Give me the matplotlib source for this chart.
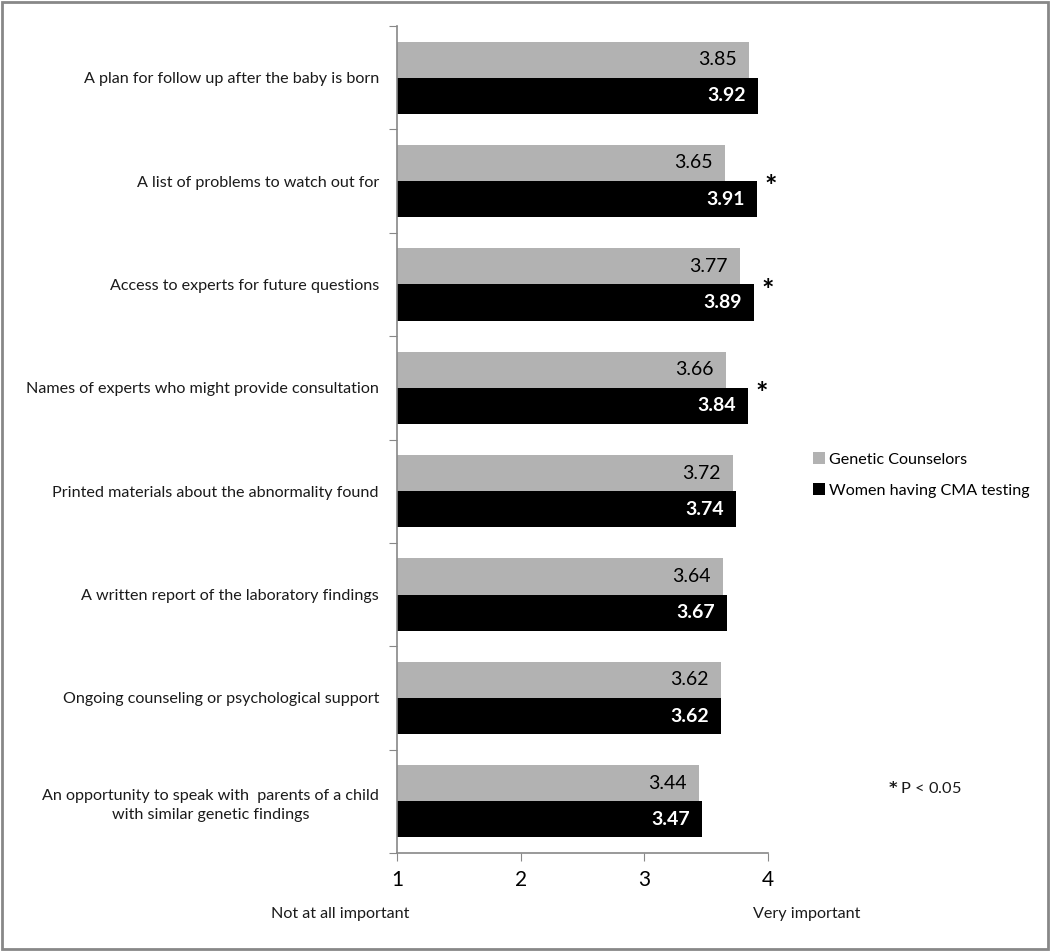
import matplotlib
matplotlib.use("Agg")
import matplotlib.pyplot as plt
from matplotlib.patches import Rectangle
import numpy as np

categories = [
    "A plan for follow up after the baby is born",
    "A list of problems to watch out for",
    "Access to experts for future questions",
    "Names of experts who might provide consultation",
    "Printed materials about the abnormality found",
    "A written report of the laboratory findings",
    "Ongoing counseling or psychological support",
    "An opportunity to speak with  parents of a child\nwith similar genetic findings",
]
counselors = [3.85, 3.65, 3.77, 3.66, 3.72, 3.64, 3.62, 3.44]
women = [3.92, 3.91, 3.89, 3.84, 3.74, 3.67, 3.62, 3.47]
significant = [False, True, True, True, False, False, False, False]
series_names = ["Genetic Counselors", "Women having CMA testing"]
xticks = [1, 2, 3, 4]

plt.rcParams['font.family'] = ['Lato', 'DejaVu Sans']

fig = plt.figure(figsize=(10.5, 9.51), dpi=100)
ax = fig.add_axes([397/1050, 1-853/951, (768-397)/1050, (853-26)/951])

n = len(categories)
y = np.arange(n)
h = 0.35
gray = "#b2b2b2"
ax.barh(y - h/2, np.array(counselors) - 1, left=1, height=h, color=gray, label=series_names[0])
ax.barh(y + h/2, np.array(women) - 1, left=1, height=h, color="black", label=series_names[1])

for i in range(n):
    ax.text(counselors[i] - 0.10, y[i] - h/2, f"{counselors[i]:.2f}", ha="right", va="center",
            fontsize=14, color="black")
    ax.text(women[i] - 0.10, y[i] + h/2, f"{women[i]:.2f}", ha="right", va="center",
            fontsize=14, color="white", fontweight="bold")
    if significant[i]:
        ax.text(women[i] + 0.06, y[i] + 0.06, "*", ha="left", va="center",
                fontsize=21, fontweight="bold", color="black")

ax.set_xlim(1, 4)
ax.set_ylim(n - 0.5, -0.5)
ax.set_xticks(xticks)
ax.set_xticklabels([str(t) for t in xticks], fontsize=15)
ax.set_yticks(np.arange(n + 1) - 0.5)
ax.set_yticklabels([])
ax.set_yticks(y, minor=True)
ax.set_yticklabels(categories, minor=True, fontsize=11.6, ha="right", multialignment="center",
                   color="#1a1a1a", linespacing=1.45)
ax.tick_params(axis="y", which="minor", length=0, pad=13)
ax.tick_params(axis="y", which="major", length=6, color="#888888", direction="out")
ax.tick_params(axis="x", length=6, color="#888888", direction="out", pad=6)

for s in ["top", "right"]:
    ax.spines[s].set_visible(False)
for s in ["left", "bottom"]:
    ax.spines[s].set_color("#888888")
    ax.spines[s].set_linewidth(1.2)

fig.text(340/1050, 1-914/951, "Not at all important", ha="center", va="center", fontsize=11.6, color="#1a1a1a")
fig.text(807/1050, 1-914/951, "Very important", ha="center", va="center", fontsize=11.6, color="#1a1a1a")

fig.legend(handles=ax.get_legend_handles_labels()[0], labels=series_names,
           loc="center left", bbox_to_anchor=(798/1050, 1-475/951), frameon=False,
           fontsize=11.6, handlelength=0.75, handleheight=0.75, handletextpad=0.3,
           labelspacing=1.0)

fig.text(888/1050, 1-788/951, "$\\mathbf{*}$ P < 0.05", ha="left", va="center", fontsize=11.8, color="#1a1a1a")

fig.patches.append(Rectangle((0.002, 0.002), 0.996, 0.996, transform=fig.transFigure,
                             fill=False, edgecolor="#888888", linewidth=2))

fig.savefig("out.png", dpi=100)
